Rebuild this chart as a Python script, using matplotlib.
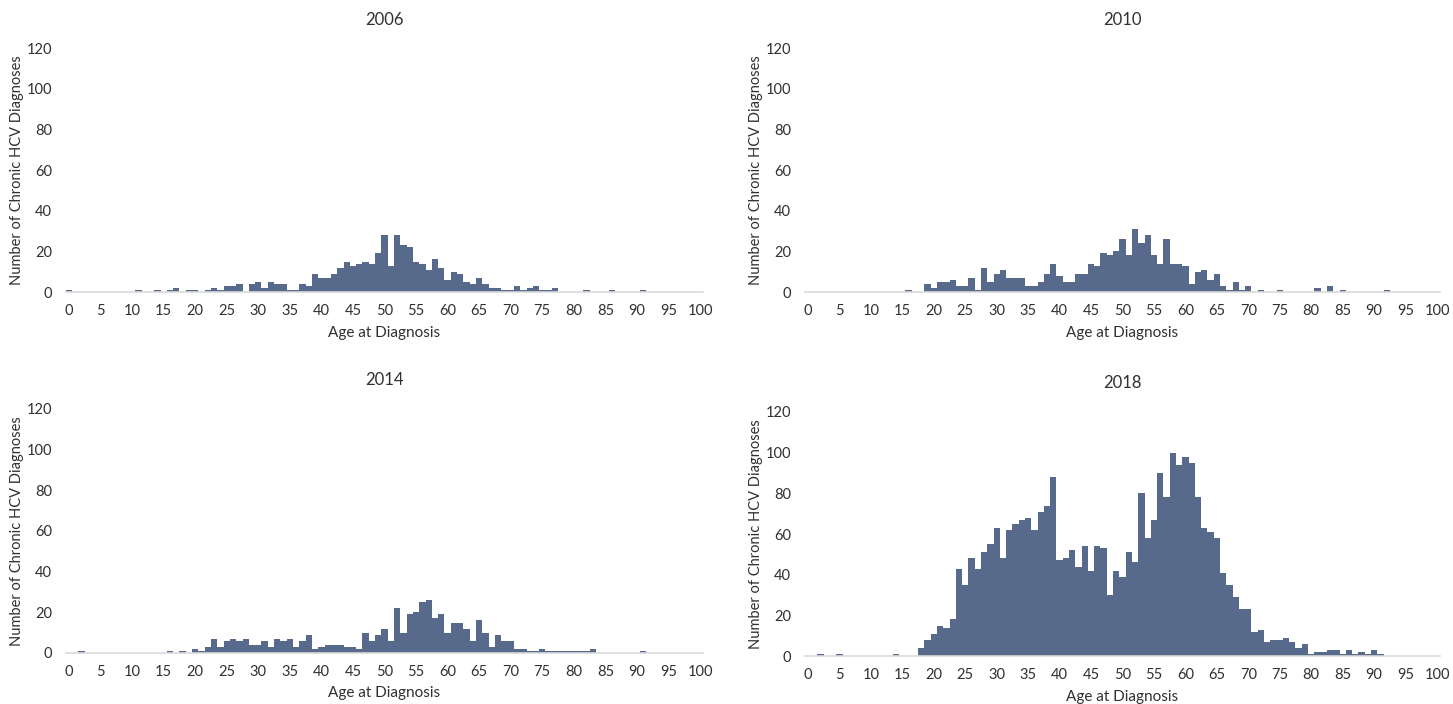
import matplotlib
matplotlib.use("Agg")
import matplotlib.pyplot as plt
import numpy as np

ages = list(range(0, 101))

counts_2006 = [1, 0, 0, 0, 0, 0, 0, 0, 0, 0,
               0, 1, 0, 0, 1, 0, 1, 2, 0, 1,
               1, 0, 1, 2, 1, 3, 3, 4, 0, 4,
               5, 2, 5, 4, 4, 1, 1, 4, 3, 9,
               7, 7, 9, 12, 15, 13, 14, 15, 14, 19,
               28, 13, 28, 23, 22, 15, 14, 11, 16, 12,
               6, 10, 9, 5, 4, 7, 4, 2, 2, 1,
               1, 3, 1, 2, 3, 1, 1, 2, 0, 0,
               0, 0, 1, 0, 0, 0, 1, 0, 0, 0,
               0, 1, 0, 0, 0, 0, 0, 0, 0, 0,
               0]

counts_2010 = [0, 0, 0, 0, 0, 0, 0, 0, 0, 0,
               0, 0, 0, 0, 0, 0, 1, 0, 0, 4,
               2, 5, 5, 6, 3, 3, 7, 1, 12, 5,
               9, 11, 7, 7, 7, 3, 3, 5, 9, 14,
               8, 5, 5, 9, 9, 14, 13, 19, 18, 20,
               26, 18, 31, 24, 28, 18, 14, 26, 14, 14,
               13, 4, 10, 11, 6, 9, 3, 1, 5, 1,
               3, 0, 1, 0, 0, 1, 0, 0, 0, 0,
               0, 2, 0, 3, 0, 1, 0, 0, 0, 0,
               0, 0, 1, 0, 0, 0, 0, 0, 0, 0,
               0]

counts_2014 = [0, 0, 1, 0, 0, 0, 0, 0, 0, 0,
               0, 0, 0, 0, 0, 0, 1, 0, 1, 0,
               2, 1, 3, 7, 3, 6, 7, 6, 7, 4,
               4, 6, 3, 7, 6, 7, 3, 6, 9, 2,
               3, 4, 4, 4, 3, 3, 2, 10, 6, 9,
               12, 6, 22, 10, 19, 20, 25, 26, 17, 19,
               10, 15, 15, 12, 6, 16, 10, 3, 9, 6,
               6, 2, 2, 1, 1, 2, 1, 1, 1, 1,
               1, 1, 1, 2, 0, 0, 0, 0, 0, 0,
               0, 1, 0, 0, 0, 0, 0, 0, 0, 0,
               0]

counts_2018 = [0, 0, 1, 0, 0, 1, 0, 0, 0, 0,
               0, 0, 0, 0, 1, 0, 0, 0, 4, 8,
               11, 15, 14, 18, 43, 35, 48, 43, 51, 55,
               63, 48, 62, 65, 67, 68, 62, 71, 74, 88,
               47, 48, 52, 44, 54, 42, 54, 53, 30, 42,
               39, 51, 46, 80, 58, 67, 90, 78, 100, 94,
               98, 95, 78, 63, 61, 58, 41, 35, 29, 23,
               23, 12, 13, 7, 8, 8, 9, 7, 4, 6,
               1, 2, 2, 3, 3, 1, 3, 1, 2, 1,
               3, 1, 0, 0, 0, 0, 0, 0, 0, 0,
               0]

titles = ["2006", "2010", "2014", "2018"]
series = [counts_2006, counts_2010, counts_2014, counts_2018]
x_ticks = list(range(0, 101, 5))
y_ticks = list(range(0, 121, 20))

BAR = "#586a8b"
TXT = "#303030"
W, H = 1453, 704

plt.rcParams['font.family'] = ['Lato', 'DejaVu Sans']

fig = plt.figure(figsize=(W / 100, H / 100), dpi=100)

# axes boxes in pixels: (left, right, top, bottom)
boxes = [(65.85, 703.2, 48, 292),
         (804.85, 1440.15, 48, 292),
         (65.85, 703.2, 409, 653),
         (804.85, 1440.15, 412, 656)]
xlabel_y = [333, 333, 693, 697]
title_y = [20, 20, 380, 383]

for (l, r, t, b), ttl, vals, xly, ty in zip(boxes, titles, series, xlabel_y, title_y):
    ax = fig.add_axes([l / W, 1 - b / H, (r - l) / W, (b - t) / H])
    ax.bar(ages, vals, width=1.0, color=BAR, linewidth=0)
    ax.set_xlim(-0.5, 100.5)
    ax.set_ylim(0, 120)
    ax.set_xticks(x_ticks)
    ax.set_yticks(y_ticks)
    ax.tick_params(axis='both', length=0, labelsize=10.5, labelcolor=TXT)
    ax.tick_params(axis='x', pad=8.5)
    ax.tick_params(axis='y', pad=10)
    for s in ['top', 'right', 'left']:
        ax.spines[s].set_visible(False)
    ax.spines['bottom'].set_color('#d9d9d9')
    ax.spines['bottom'].set_linewidth(1.2)
    hpx = b - t
    wpx = r - l
    ax.set_xlabel("Age at Diagnosis", fontsize=11, color=TXT)
    ax.xaxis.set_label_coords(0.5, -(xly - b) / hpx)
    ax.xaxis.label.set_va('center')
    ax.set_ylabel("Number of Chronic HCV Diagnoses", fontsize=10.5, color=TXT)
    ax.yaxis.set_label_coords(-48.5 / wpx, 0.5)
    ax.yaxis.label.set_va('center')
    ax.set_title(ttl, y=1 + (t - ty) / hpx, pad=0, va='center', fontsize=12, color=TXT)

fig.savefig("out.png", dpi=100)
